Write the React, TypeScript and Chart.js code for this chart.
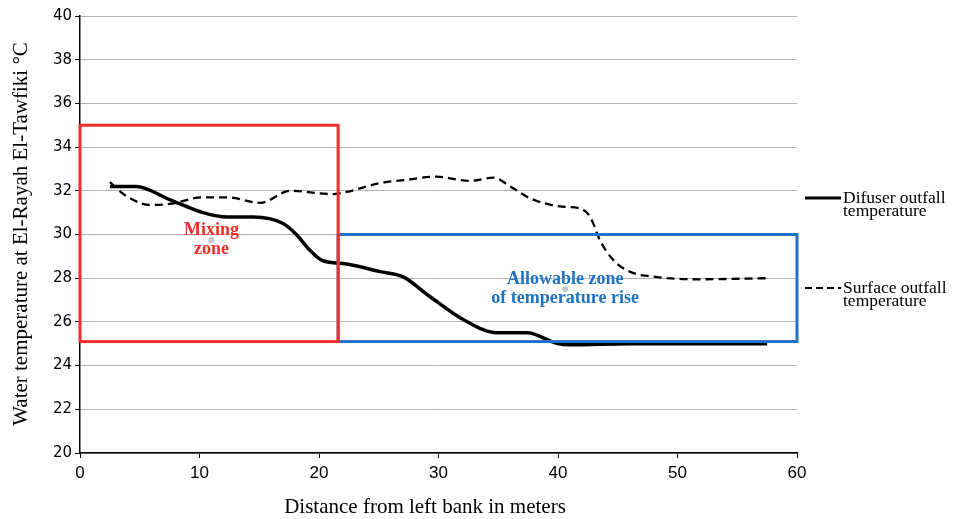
import React, { useEffect, useRef } from "react";
import { Chart, registerables } from "chart.js";

Chart.register(...registerables);

// Distance from the left bank (m) and temperature (°C) for each outfall
const difuserDistance = [2.5, 4.7, 7.5, 10.3, 12.3, 14.5, 17.0, 18.1, 19.2, 20.3, 22.3, 25.1, 27.0, 29.3, 32.1, 34.9, 37.4, 39.9, 41.0, 46.0, 57.5];
const difuserTemp = [32.2, 32.2, 31.6, 31.0, 30.8, 30.8, 30.5, 30.0, 29.3, 28.8, 28.65, 28.3, 28.07, 27.15, 26.1, 25.5, 25.5, 25.02, 24.95, 25.0, 25.0];

const surfaceDistance = [2.5, 3.9, 5.9, 7.5, 10.3, 12.3, 15.1, 17.6, 21.0, 22.3, 25.1, 27.3, 29.8, 32.6, 34.6, 36.0, 37.7, 40.4, 41.8, 42.7, 43.5, 44.6, 46.0, 48.3, 51.9, 57.5];
const surfaceTemp = [32.4, 31.75, 31.35, 31.4, 31.7, 31.7, 31.45, 32.0, 31.85, 31.95, 32.35, 32.5, 32.65, 32.45, 32.6, 32.2, 31.65, 31.27, 31.2, 30.8, 29.75, 28.85, 28.3, 28.05, 27.95, 28.0];

// Zones as [xMin, xMax, yMin, yMax]
const mixingZone = [0, 21.6, 25.1, 35];
const allowableZone = [21.6, 60, 25.1, 30];

// Zone captions: [x, y] centre of the caption block
const mixingLabel = ["Mixing", "zone"];
const mixingLabelAt = [11, 29.75];
const allowableLabel = ["Allowable zone", "of temperature rise"];
const allowableLabelAt = [40.6, 27.5];

const legendNames = [["Difuser outfall", "temperature"], ["Surface outfall", "temperature"]];

const xTicks = [0, 10, 20, 30, 40, 50, 60];
const yRange = [20, 40];

const RED = "#ee3029";
const BLUE = "#1f73c3";
const SERIF = "'Liberation Serif', 'Times New Roman', serif";

const toPoints = (xs: number[], ys: number[]) => xs.map((x, i) => ({ x, y: ys[i] }));

const overlayPlugin = {
  id: "overlay",
  afterDatasetsDraw(chart: any) {
    const { ctx, scales } = chart;
    const xs = scales.x;
    const ys = scales.y;

    const rect = (z: number[], color: string) => {
      const x0 = xs.getPixelForValue(z[0]);
      const x1 = xs.getPixelForValue(z[1]);
      const y0 = ys.getPixelForValue(z[3]);
      const y1 = ys.getPixelForValue(z[2]);
      ctx.save();
      ctx.strokeStyle = color;
      ctx.lineWidth = 3;
      ctx.strokeRect(x0, y0, x1 - x0, y1 - y0);
      ctx.restore();
    };
    rect(allowableZone, BLUE);
    rect(mixingZone, RED);

    const caption = (lines: string[], at: number[], color: string) => {
      const cx = xs.getPixelForValue(at[0]);
      const cy = ys.getPixelForValue(at[1]);
      ctx.save();
      ctx.fillStyle = "rgba(150,150,150,0.55)";
      ctx.beginPath();
      ctx.arc(cx, cy, 3, 0, Math.PI * 2);
      ctx.fill();
      ctx.fillStyle = color;
      ctx.font = `bold 18px ${SERIF}`;
      ctx.textAlign = "center";
      ctx.textBaseline = "middle";
      const lh = 19;
      lines.forEach((t, i) => {
        ctx.fillText(t, cx, cy + (i - (lines.length - 1) / 2) * lh);
      });
      ctx.restore();
    };
    caption(mixingLabel, mixingLabelAt, RED);
    caption(allowableLabel, allowableLabelAt, BLUE);
  },
  afterDraw(chart: any) {
    const { ctx, chartArea } = chart;
    ctx.save();
    // Axis titles
    ctx.fillStyle = "#000";
    ctx.font = `21px ${SERIF}`;
    ctx.textAlign = "center";
    ctx.textBaseline = "middle";
    ctx.fillText("Distance from left bank in meters", 425, 507);
    ctx.save();
    ctx.translate(21, 234);
    ctx.rotate(-Math.PI / 2);
    ctx.font = `21px ${SERIF}`;
    ctx.fillText("Water temperature at El-Rayah El-Tawfiki °C", 0, 0);
    ctx.restore();

    // Legend
    const legendX = 805;
    const rows = [198, 288];
    ctx.font = `17.5px ${SERIF}`;
    ctx.textAlign = "left";
    ctx.textBaseline = "alphabetic";
    rows.forEach((y, i) => {
      ctx.save();
      ctx.strokeStyle = "#000";
      if (i === 0) {
        ctx.lineWidth = 3;
        ctx.setLineDash([]);
      } else {
        ctx.lineWidth = 2.2;
        ctx.setLineDash([7, 4]);
      }
      ctx.beginPath();
      ctx.moveTo(legendX, y);
      ctx.lineTo(legendX + 36, y);
      ctx.stroke();
      ctx.restore();
      ctx.fillText(legendNames[i][0], legendX + 38, y + 5);
      ctx.fillText(legendNames[i][1], legendX + 38, y + 18);
    });
    ctx.restore();
  },
};

export default function App() {
  const canvasRef = useRef<HTMLCanvasElement>(null);

  useEffect(() => {
    document.body.style.margin = "0";
    const canvas = canvasRef.current;
    if (!canvas) return;
    const chart = new Chart(canvas, {
      type: "line",
      data: {
        datasets: [
          {
            label: "Difuser outfall temperature",
            data: toPoints(difuserDistance, difuserTemp),
            borderColor: "#000",
            borderWidth: 3.5,
            pointRadius: 0,
            cubicInterpolationMode: "monotone",
            fill: false,
          },
          {
            label: "Surface outfall temperature",
            data: toPoints(surfaceDistance, surfaceTemp),
            borderColor: "#000",
            borderWidth: 2.3,
            borderDash: [8, 5],
            pointRadius: 0,
            cubicInterpolationMode: "monotone",
            fill: false,
          },
        ],
      },
      options: {
        animation: false,
        responsive: false,
        maintainAspectRatio: false,
        layout: { padding: { left: 0, top: 16, right: 156, bottom: 0 } },
        plugins: {
          legend: { display: false },
          tooltip: { enabled: false },
        },
        scales: {
          x: {
            type: "linear",
            min: xTicks[0],
            max: xTicks[xTicks.length - 1],
            afterBuildTicks: (s: any) => {
              s.ticks = xTicks.map((v) => ({ value: v }));
            },
            afterFit: (s: any) => {
              s.height = 66;
            },
            grid: {
              drawOnChartArea: false,
              tickLength: 5,
              tickColor: "#000",
            },
            border: { color: "#000", width: 1.5 },
            ticks: {
              color: "#000",
              padding: 5,
              maxRotation: 0,
              font: { family: "'Liberation Sans Narrow', 'Liberation Sans', sans-serif", size: 17 },
            },
          },
          y: {
            type: "linear",
            min: yRange[0],
            max: yRange[1],
            afterFit: (s: any) => {
              s.width = 80;
            },
            grid: {
              color: "#b3b3b3",
              lineWidth: 1,
              tickLength: 5,
              tickColor: "#000",
            },
            border: { color: "#000", width: 1.5 },
            ticks: {
              stepSize: 2,
              color: "#000",
              padding: 3,
              font: { family: "'DejaVu Sans', sans-serif", size: 15 },
            },
          },
        },
      },
      plugins: [overlayPlugin],
    } as any);
    return () => chart.destroy();
  }, []);

  return (
    <div style={{ width: 953, height: 519, background: "#fff" }}>
      <canvas ref={canvasRef} width={953} height={519} style={{ display: "block" }} />
    </div>
  );
}
